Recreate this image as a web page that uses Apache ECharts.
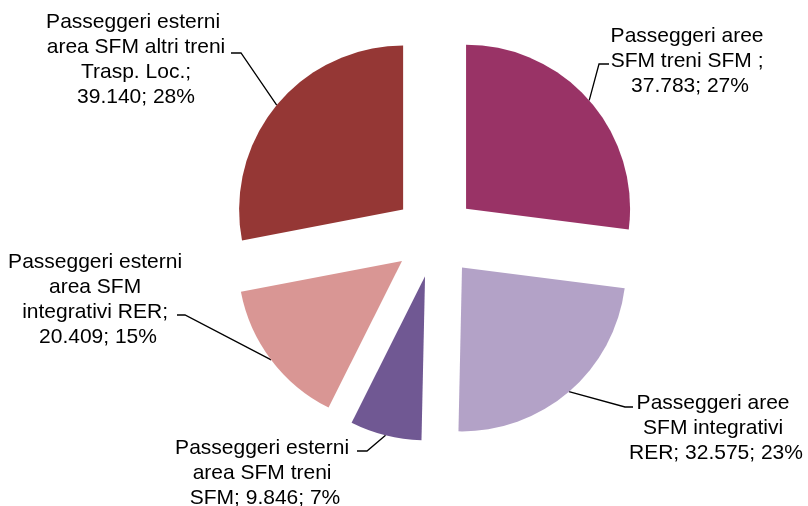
<!DOCTYPE html>
<html>
<head>
<meta charset="utf-8">
<script src="https://cdn.jsdelivr.net/npm/echarts@6/dist/echarts.min.js"></script>
<style>
  html, body { margin: 0; padding: 0; background: #ffffff; }
  #chart { width: 808px; height: 506px; }
</style>
</head>
<body>
<div id="chart"></div>
<script>
// Passenger groups and counts
const categories = [
  'Passeggeri aree SFM treni SFM ',
  'Passeggeri aree SFM integrativi RER',
  'Passeggeri esterni area SFM treni SFM',
  'Passeggeri esterni area SFM integrativi RER',
  'Passeggeri esterni area SFM altri treni Trasp. Loc.'
];
const values = [37783, 32575, 9846, 20409, 39140];
const palette = ['#993366', '#B3A2C7', '#705893', '#D99694', '#953735'];

// Pie geometry: every slice is pulled out from the common centre
const CX = 435, CY = 236, R = 164, EXPLODE = 41.4;

// Where each label block sits and how its leader line bends
const labelSpots = [
  { x: 690, y: 61,  bend: [599, 64],  end: [609, 64] },
  { x: 716, y: 428, bend: [625, 407], end: [633, 407] },
  { x: 265, y: 473, bend: [367, 451], end: [357, 451] },
  { x: 98,  y: 300, bend: [185, 315], end: [177, 315] },
  { x: 136, y: 60,  bend: [241, 53],  end: [231, 53] }
];

const fmtIt = v => String(v).replace(/\B(?=(\d{3})+(?!\d))/g, '.');
const total = values.reduce((a, b) => a + b, 0);

// Mid angle of each slice, clockwise from 12 o'clock, in radians
let acc = 0;
const midAngles = values.map(v => {
  const a = (acc + v / 2) / total * 2 * Math.PI;
  acc += v;
  return a;
});

const FONT = '"Liberation Sans", Arial, sans-serif';

// One pie per slice: each draws only its own sector, centred at the exploded position
const series = values.map((_, i) => {
  const m = midAngles[i];
  const cx = CX + EXPLODE * Math.sin(m);
  const cy = CY - EXPLODE * Math.cos(m);
  const spot = labelSpots[i];
  return {
    type: 'pie',
    center: [cx, cy],
    radius: R,
    startAngle: 90,
    clockwise: true,
    silent: true,
    animation: false,
    avoidLabelOverlap: false,
    itemStyle: { borderWidth: 0 },
    data: categories.map((name, j) => ({
      name: name,
      value: values[j],
      itemStyle: { color: j === i ? palette[j] : 'rgba(0,0,0,0)' },
      label: { show: j === i },
      labelLine: { show: j === i }
    })),
    label: {
      color: '#000000',
      fontFamily: FONT,
      fontSize: 21,
      lineHeight: 25,
      width: 183,
      overflow: 'break',
      align: 'center',
      formatter: p => `${p.name}; ${fmtIt(p.value)}; ${Math.round(p.percent)}%`
    },
    labelLine: {
      show: true,
      length: 10,
      length2: 10,
      smooth: false,
      lineStyle: { color: '#000000', width: 1.3 }
    },
    labelLayout: p => {
      if (p.dataIndex !== i) return {};
      return {
        x: spot.x,
        y: spot.y,
        align: 'center',
        verticalAlign: 'middle',
        labelLinePoints: [
          [cx + R * Math.sin(m), cy - R * Math.cos(m)],
          spot.bend,
          spot.end
        ]
      };
    }
  };
});

const chart = echarts.init(document.getElementById('chart'), null, { renderer: 'canvas' });
chart.setOption({
  backgroundColor: '#ffffff',
  animation: false,
  series: series
});
</script>
</body>
</html>
